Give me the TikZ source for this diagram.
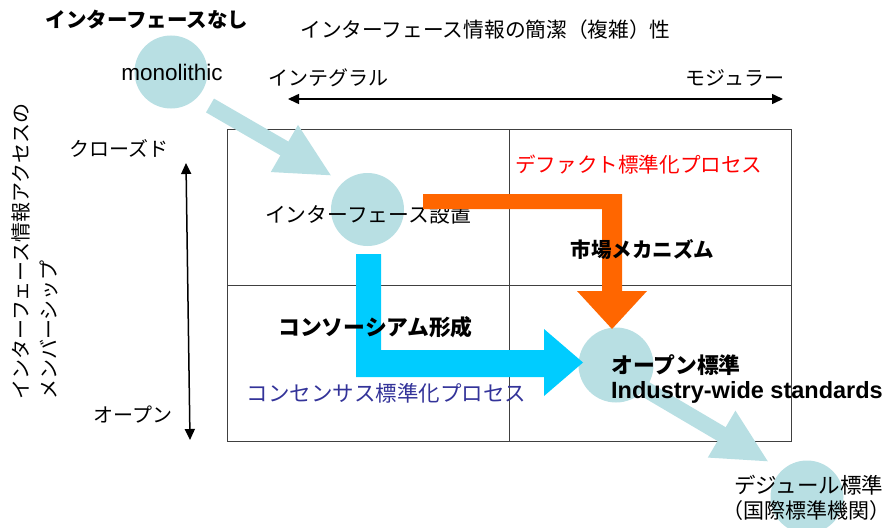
\documentclass[tikz,border=0pt]{standalone}
\usepackage{fontspec}
\setmainfont{Noto Sans CJK JP}
\newfontfamily\lat{Liberation Sans}
\usetikzlibrary{arrows.meta}
\definecolor{lb}{HTML}{B8DFE3}
\definecolor{org}{HTML}{FF6600}
\definecolor{cy}{HTML}{00CCFF}
\definecolor{nv}{HTML}{333399}
\definecolor{gl}{HTML}{404040}
\begin{document}
\begin{tikzpicture}[x=1pt,y=-1pt,
  txt/.style={inner sep=0pt, font=\fontsize{20}{24}\selectfont},
  txtb/.style={inner sep=0pt, font=\fontsize{21.5}{24}\selectfont},
  btxt/.style={inner sep=0pt, font=\fontsize{20.5}{24}\selectfont\bfseries},
  bbtxt/.style={inner sep=0pt, font=\fontsize{21.8}{24}\selectfont\bfseries},
  circ/.style={circle, fill=lb, minimum size=#1, inner sep=0pt},
  gridln/.style={draw=gl, line width=1pt},
  dbl/.style={line width=1.5pt, {Triangle[length=11pt,width=10pt]}-{Triangle[length=11pt,width=10pt]}},
  fatline/.style={lb, line width=16pt, -{Triangle[width=50pt 0 1,length=55pt 0 1]}}]
\useasboundingbox (0,0) rectangle (890,527);
% grid
\draw[gridln] (227,129) rectangle (791,441);
\draw[gridln] (509,129) -- (509,441);
\draw[gridln] (227,285) -- (791,285);
% axes
\coordinate (hl) at (288,99); \coordinate (hr) at (783,99);
\coordinate (vt) at (186,163); \coordinate (vb) at (190,440);
\draw[dbl] (hl) -- (hr);
\draw[dbl] (vt) -- (vb);
% circles
\node[circ=73pt] (mono) at (171,72) {};
\node[circ=73pt] (iface) at (367.5,209.5) {};
\node[circ=75pt] (open) at (616,365) {};
\node[circ=73pt] (dejure) at (807,497) {};
% light blue arrows
\coordinate (a1s) at (210,105.5); \coordinate (a1t) at (332,176);
\coordinate (a2s) at (645,389); \coordinate (a2t) at (769,462);
\draw[fatline] (a1s) -- (a1t);
\draw[fatline] (a2s) -- (a2t);
% text under orange
\node[inner sep=0pt, font=\fontsize{20.8}{24}\selectfont] (tiface) at (368,215) {インターフェース設置};
% orange arrow
\fill[org] (423,194) -- (622,194) -- (622,291) -- (647,291) -- (612,329) -- (577,291) -- (602,291) -- (602,209) -- (423,209) -- cycle;
% cyan arrow
\fill[cy] (356,254) -- (381,254) -- (381,350) -- (544,350) -- (544,329) -- (583,362.5) -- (544,396) -- (544,377) -- (356,377) -- cycle;
% texts
\node[btxt] (tnone) at (147,20) {インターフェースなし};
\node[inner sep=0pt, font=\fontsize{20.7}{24}\selectfont] (ttitle) at (485.5,30) {インターフェース情報の簡潔（複雑）性};
\node[txt] (tint) at (328,78) {インテグラル};
\node[txt] (tmod) at (735,78) {モジュラー};
\node[inner sep=0pt, font=\lat\fontsize{22.5}{26}\selectfont] (tmono) at (172,72) {monolithic};
\node[txt] (tclosed) at (119,148) {クローズド};
\node[txt] (topen) at (133,415) {オープン};
\node[txt, rotate=90, anchor=west] (tv1) at (21,400) {インターフェース情報アクセスの};
\node[txt, rotate=90, anchor=west] (tv2) at (49,400) {メンバーシップ};
\node[inner sep=0pt, font=\fontsize{20.6}{24}\selectfont, text=red, anchor=west] (tdefacto) at (515,165) {デファクト標準化プロセス};
\node[btxt] (tmarket) at (642.5,250) {市場メカニズム};
\node[bbtxt] (tcons) at (375.5,327) {コンソーシアム形成};
\node[txtb, text=nv] (tconsensus) at (386.5,393) {コンセンサス標準化プロセス};
\node[bbtxt, anchor=west] (topenstd) at (611,365) {オープン標準};
\node[inner sep=0pt, anchor=west, font=\lat\bfseries\fontsize{23.5}{26}\selectfont] (tind) at (611,392) {Industry-wide standards};
\node[txtb] (tdejure) at (808.5,485) {デジュール標準};
\node[inner sep=0pt, font=\fontsize{21}{24}\selectfont] (tiso) at (806.5,510.5) {（国際標準機関）};
\end{tikzpicture}
\end{document}
